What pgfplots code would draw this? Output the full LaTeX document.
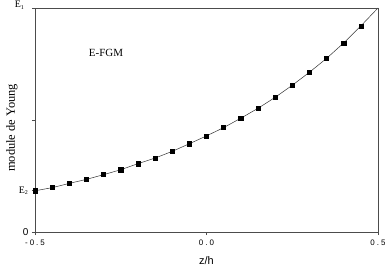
\documentclass[border=0pt]{standalone}
\usepackage{fontspec}
\setmainfont{Liberation Serif}
\newfontfamily\sanssp[LetterSpace=25]{Liberation Sans}
\newfontfamily\sans{Liberation Sans}
\usepackage{pgfplots}
\pgfplotsset{compat=1.18}
\begin{document}
\begin{tikzpicture}
\begin{axis}[
  scale only axis, width=343bp, height=224bp,
  xmin=-0.5, xmax=0.5, ymin=0, ymax=1,
  xtick={-0.5,0,0.5},
  xticklabels={-0.5,0.0,0.5},
  ytick={0,0.184,0.5},
  yticklabels={\sans 0,{E\textsubscript{\fontsize{6}{6}\selectfont 2}},{}},
  extra y ticks={1},
  extra y tick labels={E\textsubscript{\fontsize{6}{6}\selectfont 1}},
  extra y tick style={yticklabel style={yshift=3bp, xshift=-4bp}},
  tick align=outside, tick pos=left,
  major tick length=3bp,
  axis line style={draw=black!70, line width=0.7pt},
  every tick/.style={draw=black!70, line width=0.6pt},
  xticklabel style={font=\sanssp\fontsize{8}{9}\selectfont, yshift=-1bp},
  yticklabel style={font=\fontsize{10}{11}\selectfont},
  xlabel={\sans z/h}, xlabel style={font=\fontsize{11}{13}\selectfont, yshift=-5bp},
  ylabel={module de Young},
  ylabel style={font=\fontsize{12.5}{14}\selectfont, at={(axis description cs:-0.067,0.465)}, anchor=center},
  clip=false,
]
\addplot[black!80, line width=0.5pt, mark=square*, mark size=2.1pt, mark options={fill=black, draw=black}]
coordinates {
(-0.50,0.184) (-0.45,0.198) (-0.40,0.217) (-0.35,0.235) (-0.30,0.256)
(-0.25,0.278) (-0.20,0.305) (-0.15,0.330) (-0.10,0.360) (-0.05,0.394)
(0.00,0.429) (0.05,0.466) (0.10,0.508) (0.15,0.552) (0.20,0.601)
(0.25,0.655) (0.30,0.713) (0.35,0.775) (0.40,0.844) (0.45,0.920)
};
\addplot[black!80, line width=0.5pt, mark=none, forget plot]
coordinates {(0.45,0.920) (0.50,1.0)};
\draw[black!70, line width=0.7pt] (rel axis cs:0,1) -- (rel axis cs:1,1) -- (rel axis cs:1,0);
\node[font=\fontsize{11}{13}\selectfont] at (axis cs:-0.293,0.80) {E-FGM};
\end{axis}
\pgfresetboundingbox
\path (-35bp,-37bp) rectangle (350bp,232bp);
\end{tikzpicture}
\end{document}
